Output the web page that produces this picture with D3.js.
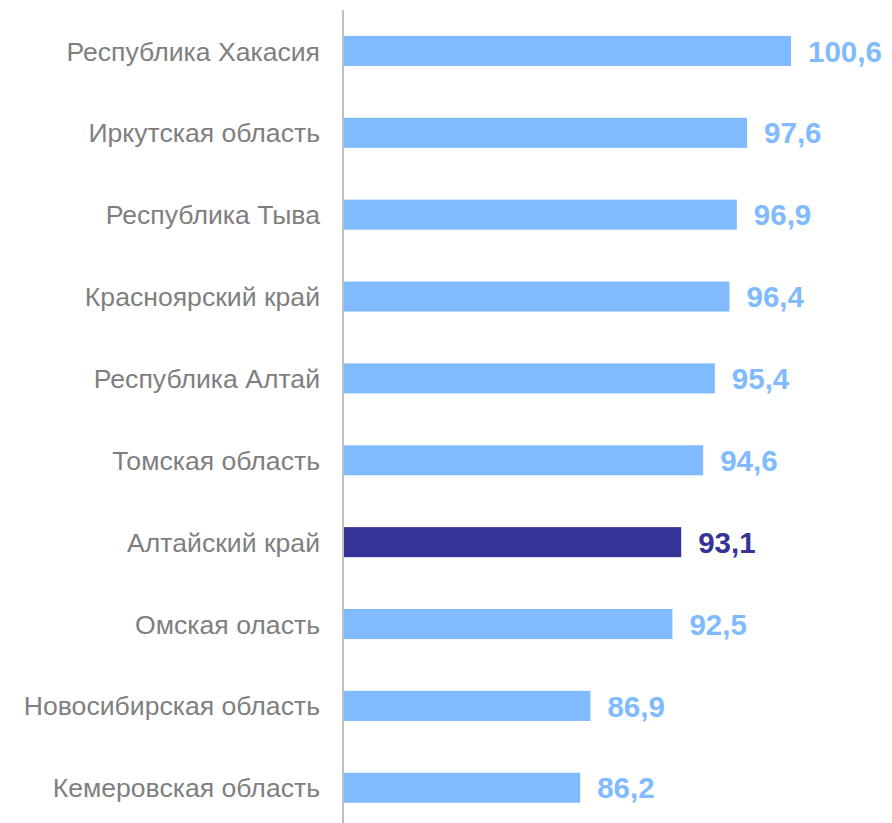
<!DOCTYPE html>
<html>
<head>
<meta charset="utf-8">
<script src="https://cdn.jsdelivr.net/npm/d3@7"></script>
<style>
	body { margin: 0; background: #fff; }
	svg { display: block; }
	.cat { font-family: "Liberation Sans", Arial, sans-serif; font-size: 26.6px; fill: #7f7f7f; }
	.val { font-family: "Liberation Sans", Arial, sans-serif; font-size: 29.5px; font-weight: bold; }
</style>
</head>
<body>
<svg id="graph"></svg>
<script>
var regions = ["Республика Хакасия", "Иркутская область", "Республика Тыва", "Красноярский край",
	"Республика Алтай", "Томская область", "Алтайский край", "Омская оласть",
	"Новосибирская область", "Кемеровская область"];
var values = [100.6, 97.6, 96.9, 96.4, 95.4, 94.6, 93.1, 92.5, 86.9, 86.2];
var highlight = "Алтайский край";

var width = 892, height = 823,
	graph = d3.select("#graph").attr("width", width).attr("height", height);

var x = d3.scaleLinear().domain([70, 100.6]).range([343, 791]);
var y = d3.scaleBand().domain(regions).range([10, 828.7])
	.paddingInner(0.633).paddingOuter(0.3165);

var colorOf = function(name) { return name == highlight ? "#353397" : "#80baff"; };

var rows = graph.selectAll("g.row")
	.data(regions.map(function(r, i) { return {name: r, value: values[i]}; }))
	.enter().append("g")
	.attr("class", "row");

rows.append("rect")
	.attr("x", x(70))
	.attr("y", function(d) { return y(d.name); })
	.attr("width", function(d) { return x(d.value) - x(70); })
	.attr("height", y.bandwidth())
	.attr("fill", function(d) { return colorOf(d.name); });

rows.append("text")
	.attr("class", "val")
	.attr("x", function(d) { return x(d.value) + 17; })
	.attr("y", function(d) { return y(d.name) + y.bandwidth() / 2; })
	.attr("dy", "0.36em")
	.attr("fill", function(d) { return colorOf(d.name); })
	.text(function(d) { return d3.format(".1f")(d.value).replace(".", ","); });

// category axis, labels only
var yAxis = d3.axisLeft(y).tickSize(0).tickPadding(23);
var ax = graph.append("g")
	.attr("transform", "translate(" + x(70) + ",0)")
	.call(yAxis);
ax.select(".domain").remove();
ax.selectAll("text").attr("class", "cat").attr("fill", null).attr("dy", "0.36em");

graph.append("line")
	.attr("x1", x(70)).attr("x2", x(70))
	.attr("y1", 10).attr("y2", height)
	.attr("stroke", "#bfbfbf")
	.attr("stroke-width", 2);
</script>
</body>
</html>
